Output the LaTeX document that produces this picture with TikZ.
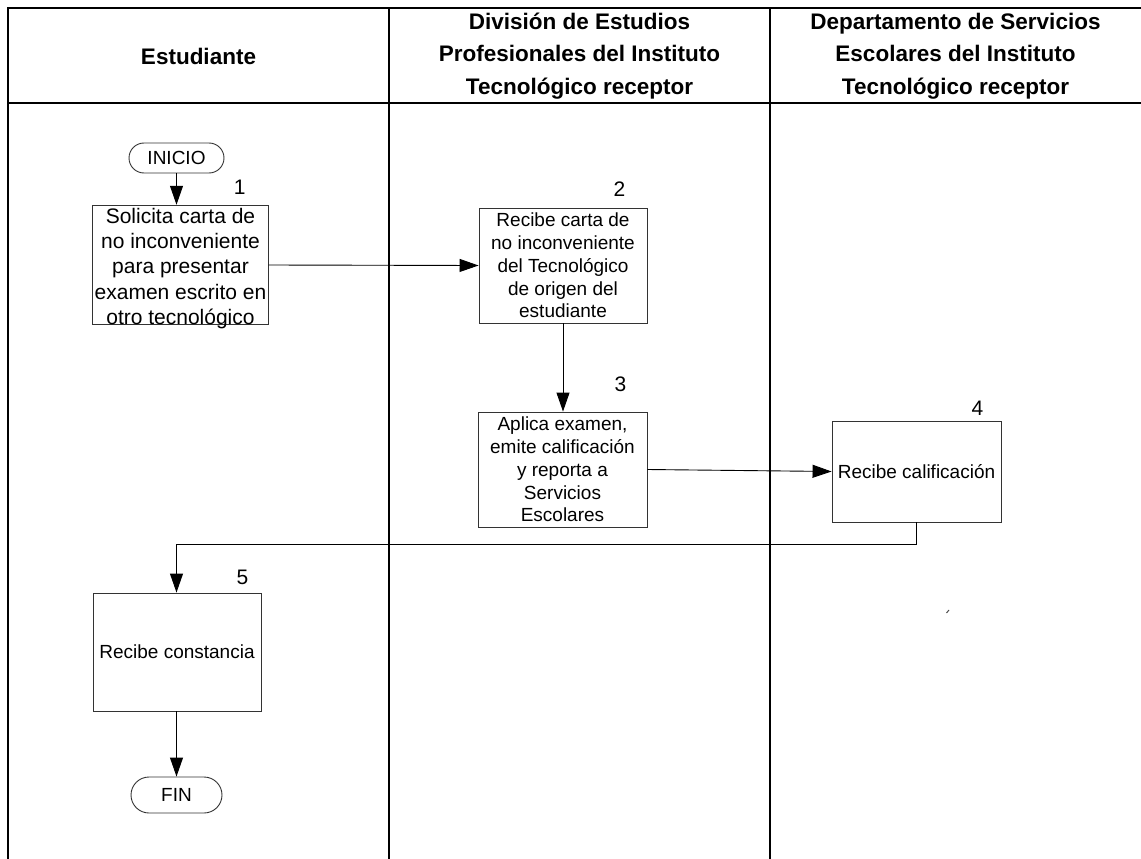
\documentclass[tikz,border=0pt]{standalone}
\usepackage{fontspec}
\setmainfont{Liberation Sans}
\usetikzlibrary{arrows.meta,positioning}

\begin{document}
\begin{tikzpicture}[x=1pt, y=-1pt]

\tikzstyle{lane} = [line width=1.3pt, draw=black]
\tikzstyle{head} = [align=center, font=\fontsize{22.5}{32.5}\selectfont\bfseries]
\tikzstyle{proc} = [rectangle, draw=black!80, line width=0.9pt, align=center, inner xsep=2pt, inner ysep=-4pt, font=\fontsize{19}{22.8}\selectfont]
\tikzstyle{term} = [rectangle, rounded corners=15pt, draw=black!80, line width=0.9pt, font=\fontsize{19}{22.8}\selectfont]
\tikzstyle{num} = [inner sep=0pt, font=\fontsize{21}{25.3}\selectfont]
\tikzstyle{arrow} = [line width=0.9pt, -{Triangle[length=19pt, width=13pt]}]

\useasboundingbox (0,0) rectangle (1141,859);

% Lanes
\draw [lane] (8,859) -- (8,8) -- (1141,8);
\draw [lane] (8,103) -- (1141,103);
\draw [lane] (389,8) -- (389,859);
\draw [lane] (770,8) -- (770,859);

% Define nodes
\node (estudiante) [head] at (198.5,56) {Estudiante};
\node (division) [head] at (579.5,56) {División de Estudios\\Profesionales del Instituto\\Tecnológico receptor};
\node (servicios) [head] at (955.5,56) {Departamento de Servicios\\Escolares del Instituto\\Tecnológico receptor};

\node (inicio) [term, minimum width=95pt, minimum height=30pt] at (176.5,158) {INICIO};
\node (solicita) [proc, font=\fontsize{21}{25.3}\selectfont, minimum width=175pt, minimum height=116pt] at (180.5,265) {\rule{0pt}{22pt}Solicita carta de\\no inconveniente\\para presentar\\examen escrito en\\otro tecnológico};
\node (recibe) [proc, minimum width=168pt, minimum height=115pt] at (563,265.5) {Recibe carta de\\no inconveniente\\del Tecnológico\\de origen del\\estudiante};
\node (aplica) [proc, minimum width=169pt, minimum height=115pt] at (562.5,469.5) {Aplica examen,\\emite calificación\\y reporta a\\Servicios\\Escolares};
\node (califica) [proc, minimum width=169pt, minimum height=101pt] at (916.5,471.5) {Recibe calificación};
\node (constancia) [proc, minimum width=168pt, minimum height=118pt] at (177,652) {Recibe constancia};
\node (fin) [term, rounded corners=18pt, minimum width=91pt, minimum height=36pt] at (176.5,795) {FIN};

\node (n1) [num, above left=10pt and 23pt of solicita.north east] {1};
\node (n2) [num, above left=11pt and 22pt of recibe.north east] {2};
\node (n3) [num, above left=20pt and 21pt of aplica.north east] {3};
\node (n4) [num, above left=5pt and 18pt of califica.north east] {4};
\node (n5) [num, above left=8pt and 13pt of constancia.north east] {5};

\coordinate (bend) at (176.5,544);

% Draw arrows
\draw [arrow] (inicio.south) -- (inicio.south |- solicita.north);
\draw [arrow] (solicita.east) -- (recibe.west);
\draw [arrow] (recibe.south) -- (recibe.south |- aplica.north);
\draw [arrow] (aplica.east) -- (califica.west);
\draw [arrow] (califica.south) |- (bend) -- (bend |- constancia.north);
\draw [arrow] (constancia.south -| fin.north) -- (fin.north);

\draw [black!70, line width=1pt] (946.5,613) -- (949,610);

\end{tikzpicture}
\end{document}
